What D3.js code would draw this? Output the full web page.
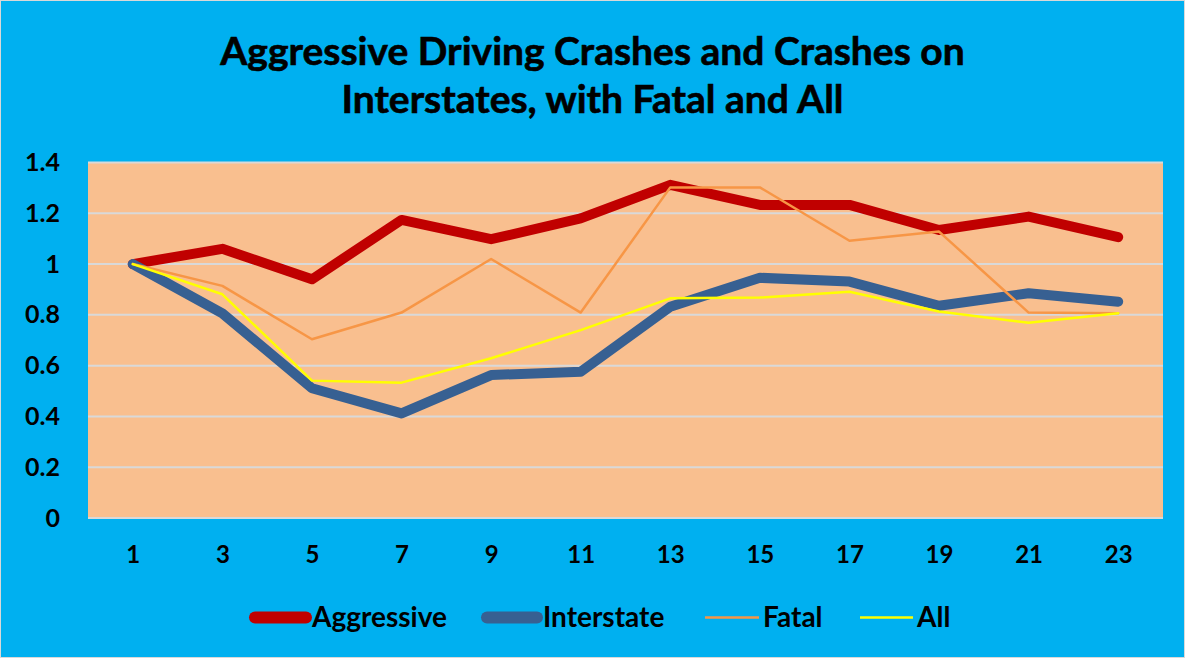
<!DOCTYPE html>
<html><head><meta charset="utf-8">
<script src="https://cdn.jsdelivr.net/npm/d3@7"></script>
<style>body{margin:0;background:#fff}svg{display:block}text{font-family:Lato,"Open Sans",sans-serif;font-weight:bold;fill:#000}</style>
</head><body>
<script>
const categories = ["1","3","5","7","9","11","13","15","17","19","21","23"];
const aggressive = [1.0,1.06,0.94,1.174,1.098,1.18,1.312,1.233,1.233,1.134,1.187,1.106];
const interstate = [1.0,0.806,0.511,0.412,0.563,0.576,0.832,0.946,0.931,0.836,0.885,0.852];
const fatal = [1.0,0.914,0.704,0.809,1.02,0.809,1.302,1.302,1.092,1.128,0.809,0.806];
const all = [1.0,0.881,0.541,0.533,0.629,0.74,0.865,0.868,0.891,0.813,0.769,0.806];
const yTicks = [0,0.2,0.4,0.6,0.8,1,1.2,1.4];
const titleLines = ["Aggressive Driving Crashes and Crashes on","Interstates, with Fatal and All"];
const seriesNames = ["Aggressive","Interstate","Fatal","All"];

const W=1185,H=658;
const svg=d3.select("body").append("svg").attr("width",W).attr("height",H);
svg.append("rect").attr("x",0.5).attr("y",0.5).attr("width",W-1).attr("height",H-1).attr("fill","#00B0F0").attr("stroke","#D9D9D9");

const L=88,R=1163,T=162.5,B=518;
const x=d3.scalePoint().domain(categories).range([L,R]).padding(0.5);
const y=d3.scaleLinear().domain([0,1.4]).range([B,T]);

svg.append("rect").attr("x",L).attr("y",T).attr("width",R-L).attr("height",B-T).attr("fill","#F9BF8F");

svg.append("g").selectAll("line").data(yTicks).join("line")
  .attr("x1",L).attr("x2",R).attr("y1",d=>y(d)).attr("y2",d=>y(d))
  .attr("stroke","#D9D9D9").attr("stroke-width",2);

const ya=svg.append("g").attr("transform",`translate(${L-28},0)`)
  .call(d3.axisLeft(y).tickValues(yTicks).tickFormat(d=>String(d)).tickSize(0).tickPadding(0));
ya.select(".domain").remove();
ya.selectAll("text").attr("font-size",25).attr("font-family","Lato, sans-serif").attr("font-weight","bold").attr("fill","#000");

const xa=svg.append("g").attr("transform",`translate(0,${B+28})`)
  .call(d3.axisBottom(x).tickSize(0).tickPadding(0));
xa.select(".domain").remove();
xa.selectAll("text").attr("font-size",24).attr("font-family","Lato, sans-serif").attr("font-weight","bold").attr("fill","#000");

const series=[
  {name:seriesNames[0],vals:aggressive,color:"#C00000",w:10},
  {name:seriesNames[1],vals:interstate,color:"#376092",w:10},
  {name:seriesNames[2],vals:fatal,color:"#F79646",w:2.5},
  {name:seriesNames[3],vals:all,color:"#FFFF00",w:2.5}
];
const line=d3.line().x((d,i)=>x(categories[i])).y(d=>y(d));
svg.append("g").selectAll("path").data(series).join("path")
  .attr("d",s=>line(s.vals)).attr("fill","none")
  .attr("stroke",s=>s.color).attr("stroke-width",s=>s.w)
  .attr("stroke-linecap","round").attr("stroke-linejoin","round");

svg.append("g").selectAll("text").data(titleLines).join("text")
  .attr("x",W/2).attr("y",(d,i)=>65+i*48).attr("text-anchor","middle")
  .attr("font-size",39).attr("stroke","#000").attr("stroke-width",0.6).text(d=>d);

const legX=[[249,312],[481,543],[705,763],[860,917]];
const lg=svg.append("g");
series.forEach((s,i)=>{
  const [sx,tx]=legX[i];
  const big=i<2, sw=big?12:s.w;
  lg.append("line").attr("x1",sx+(big?sw/2:0)).attr("x2",(big?tx:tx-4)-(big?sw/2:0)).attr("y1",617.5).attr("y2",617.5)
    .attr("stroke",s.color).attr("stroke-width",sw).attr("stroke-linecap",big?"round":"butt");
  lg.append("text").attr("x",tx).attr("y",627).attr("font-size",28).text(s.name);
});
</script>
</body></html>
